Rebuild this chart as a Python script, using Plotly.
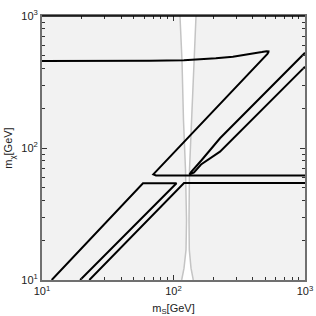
import plotly.graph_objects as go

# Gray resonance band (two boundary curves)
band_y = [1000, 464, 163, 68.1, 28.5, 16.9, 12.3, 10]
band_left_x = [112.0, 116.0, 119.1, 123.4, 125.6, 124.5, 120.2, 115.4]
band_right_x = [148.3, 143.2, 135.9, 132.3, 131.2, 131.9, 135.9, 141.4]

# Contour A: top plateau, turning back down, then flat to the right
a_x = [10, 27.6, 66.2, 120, 159, 210, 283, 360, 416.7, 470, 510, 527.8, 527, 518, 70.2, 73.6, 1000]
a_y = [456, 456, 458, 463, 470, 479, 492, 508, 521, 533, 541, 539, 532, 517, 63.2, 61.9, 61.9]

# Contour D: narrow tongue from the right edge
d_x = [1000, 225.7, 163.9, 150.9, 135.9, 132.3, 143.2, 161.9, 225.7, 1000]
d_y = [527, 118.5, 81.1, 74.3, 65.8, 63.0, 65.2, 75.0, 93.8, 413]

# Contour B: closed on bottom edge
b_x = [11.85, 58.6, 105.4, 19.5]
b_y = [10, 54.0, 54.0, 10]

# Contour C: from bottom edge to right edge
c_x = [22.9, 120.2, 1000]
c_y = [10, 54.3, 54.3]

major_vals = [10, 100, 1000]
major_text = ["10<sup>1</sup>", "10<sup>2</sup>", "10<sup>3</sup>"]
minor_vals = [20, 30, 40, 50, 60, 70, 80, 90, 200, 300, 400, 500, 600, 700, 800, 900]

fig = go.Figure()

# white band fill
fig.add_trace(go.Scatter(
    x=band_left_x + band_right_x[::-1], y=band_y + band_y[::-1],
    fill="toself", fillcolor="white", mode="none", hoverinfo="skip", showlegend=False))
for bx in (band_left_x, band_right_x):
    fig.add_trace(go.Scatter(x=bx, y=band_y, mode="lines",
                             line=dict(color="#c4c4c4", width=1.5), showlegend=False))

for xs, ys in ((a_x, a_y), (d_x, d_y), (b_x, b_y), (c_x, c_y)):
    fig.add_trace(go.Scatter(x=xs, y=ys, mode="lines",
                             line=dict(color="black", width=2), showlegend=False))

axis_common = dict(
    type="log", range=[1, 3], tickvals=major_vals, ticktext=major_text,
    ticks="inside", ticklen=5, tickwidth=1, tickcolor="#333",
    minor=dict(tickvals=minor_vals, ticks="inside", ticklen=3, tickcolor="#333"),
    showgrid=False, zeroline=False, showline=True, linecolor="#707070", linewidth=2,
    mirror="ticks", automargin=False,
    tickfont=dict(family="Liberation Sans, Arial", size=11, color="#222"),
    title_font=dict(family="Liberation Sans, Arial", size=11, color="#222"),
)

fig.update_xaxes(**axis_common, title_text="m<sub>S</sub>[GeV]", title_standoff=8)
fig.update_yaxes(**axis_common, title_text="m<sub>χ</sub>[GeV]", title_standoff=6)

fig.add_shape(type="line", xref="paper", yref="paper", x0=0, x1=1, y0=1, y1=1,
              line=dict(color="black", width=1.5))

fig.update_layout(
    width=316, height=316,
    margin=dict(l=42, r=11, t=16, b=36),
    plot_bgcolor="#f2f2f2", paper_bgcolor="white",
    showlegend=False,
)

fig.write_html("out.html", config={"displayModeBar": False},
               post_script="document.body.style.margin='0';document.body.style.padding='0';")
